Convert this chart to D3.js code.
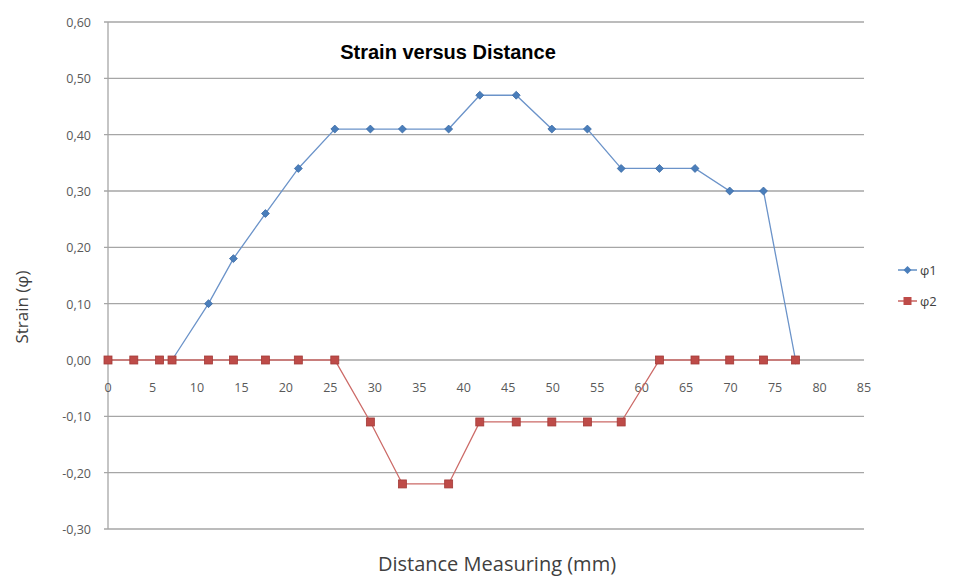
<!DOCTYPE html>
<html>
<head>
<meta charset="utf-8">
<script src="https://cdn.jsdelivr.net/npm/d3@7"></script>
<style>
  body { margin: 0; background: #fff; }
  svg { display: block; font-family: "Open Sans", "Liberation Sans", sans-serif; }
</style>
</head>
<body>
<svg id="chart" width="954" height="577"></svg>
<script>
// distances (mm)
const distance = [0, 2.9, 5.8, 7.2, 11.3, 14.1, 17.7, 21.4, 25.5, 29.5, 33.1, 38.3, 41.8, 45.9, 49.9, 53.9, 57.7, 62, 66, 69.9, 73.7, 77.3];
// phi1 starts at 7.2 mm
const phi1 = [null, null, null, 0, 0.10, 0.18, 0.26, 0.34, 0.41, 0.41, 0.41, 0.41, 0.47, 0.47, 0.41, 0.41, 0.34, 0.34, 0.34, 0.30, 0.30, 0];
const phi2 = [0, 0, 0, 0, 0, 0, 0, 0, 0, -0.11, -0.22, -0.22, -0.11, -0.11, -0.11, -0.11, -0.11, 0, 0, 0, 0, 0];
const xTicks = d3.range(0, 90, 5);
const yTicks = [-0.3, -0.2, -0.1, 0, 0.1, 0.2, 0.3, 0.4, 0.5, 0.6];
const seriesNames = ["\u03c61", "\u03c62"];

const plotLeft = 108, plotRight = 864, plotTop = 22, plotBottom = 529;

const svg = d3.select('#chart');

const x = d3.scaleLinear().domain([0, 85]).range([plotLeft, plotRight]);
const y = d3.scaleLinear().domain([-0.3, 0.6]).range([plotBottom, plotTop]);

const fmt = v => d3.format('.2f')(v).replace('.', ',').replace('\u2212', '-');

// gridlines
svg.append('g')
  .selectAll('line')
  .data(yTicks)
  .enter()
  .append('line')
  .attr('x1', plotLeft - 4)
  .attr('x2', plotRight)
  .attr('y1', d => y(d))
  .attr('y2', d => y(d))
  .attr('stroke', '#a6a6a6')
  .attr('stroke-width', 1.3);

// y axis line
svg.append('line')
  .attr('x1', plotLeft).attr('x2', plotLeft)
  .attr('y1', plotTop).attr('y2', plotBottom)
  .attr('stroke', '#a6a6a6')
  .attr('stroke-width', 1.3);

// y tick labels
svg.append('g')
  .selectAll('text')
  .data(yTicks)
  .enter()
  .append('text')
  .attr('x', 91)
  .attr('y', d => y(d) + 5)
  .attr('text-anchor', 'end')
  .attr('font-size', 12.5)
  .attr('fill', '#595959')
  .text(fmt);

// x tick labels
svg.append('g')
  .selectAll('text')
  .data(xTicks)
  .enter()
  .append('text')
  .attr('x', d => x(d))
  .attr('y', y(0) + 32)
  .attr('text-anchor', 'middle')
  .attr('font-size', 12.5)
  .attr('fill', '#595959')
  .text(d => d);

// series
const colors = ['#4a7ebb', '#be4b48'];
const data1 = distance.map((d, i) => ({x: d, y: phi1[i]})).filter(d => d.y !== null);
const data2 = distance.map((d, i) => ({x: d, y: phi2[i]}));

const line = d3.line().x(d => x(d.x)).y(d => y(d.y));

svg.append('path')
  .datum(data1)
  .attr('d', line)
  .attr('fill', 'none')
  .attr('stroke', '#6b93c9')
  .attr('stroke-width', 1.3);

svg.append('path')
  .datum(data2)
  .attr('d', line)
  .attr('fill', 'none')
  .attr('stroke', '#cc6a67')
  .attr('stroke-width', 1.3);

const diamond = d3.symbol().type(d3.symbolDiamond2).size(40);

svg.append('g')
  .selectAll('path')
  .data(data1)
  .enter()
  .append('path')
  .attr('d', diamond)
  .attr('transform', d => `translate(${x(d.x)},${y(d.y)})`)
  .attr('fill', colors[0])
  .attr('stroke', '#3b6aa3')
  .attr('stroke-width', 0.8);

svg.append('g')
  .selectAll('rect')
  .data(data2)
  .enter()
  .append('rect')
  .attr('x', d => x(d.x) - 4)
  .attr('y', d => y(d.y) - 4)
  .attr('width', 8)
  .attr('height', 8)
  .attr('fill', colors[1])
  .attr('stroke', '#a33b38')
  .attr('stroke-width', 0.8);

// title
svg.append('text')
  .attr('x', 448)
  .attr('y', 59)
  .attr('text-anchor', 'middle')
  .attr('font-size', 20)
  .attr('font-weight', 'bold')
  .attr('font-family', '"Liberation Sans", Arial, sans-serif')
  .attr('fill', '#000')
  .text('Strain versus Distance');

// axis titles
svg.append('text')
  .attr('x', 497)
  .attr('y', 571)
  .attr('text-anchor', 'middle')
  .attr('font-size', 20)
  .attr('fill', '#404040')
  .text('Distance Measuring (mm)');

svg.append('text')
  .attr('transform', 'translate(28,307) rotate(-90)')
  .attr('text-anchor', 'middle')
  .attr('font-size', 17)
  .attr('fill', '#404040')
  .text('Strain  (\u03c6)');

// legend
const legend = svg.append('g')
  .selectAll('g')
  .data(seriesNames)
  .enter()
  .append('g')
  .attr('transform', (d, i) => `translate(898,${270 + i * 31})`);

legend.append('line')
  .attr('x1', 0).attr('x2', 19)
  .attr('stroke', (d, i) => colors[i])
  .attr('stroke-width', 1.3);

legend.filter((d, i) => i === 0)
  .append('path')
  .attr('d', diamond)
  .attr('transform', 'translate(9.5,0)')
  .attr('fill', colors[0]);

legend.filter((d, i) => i === 1)
  .append('rect')
  .attr('x', 5.5).attr('y', -4)
  .attr('width', 8).attr('height', 8)
  .attr('fill', colors[1]);

legend.append('text')
  .attr('x', 22)
  .attr('y', 5)
  .attr('font-size', 13)
  .attr('fill', '#404040')
  .text(d => d);
</script>
</body>
</html>
